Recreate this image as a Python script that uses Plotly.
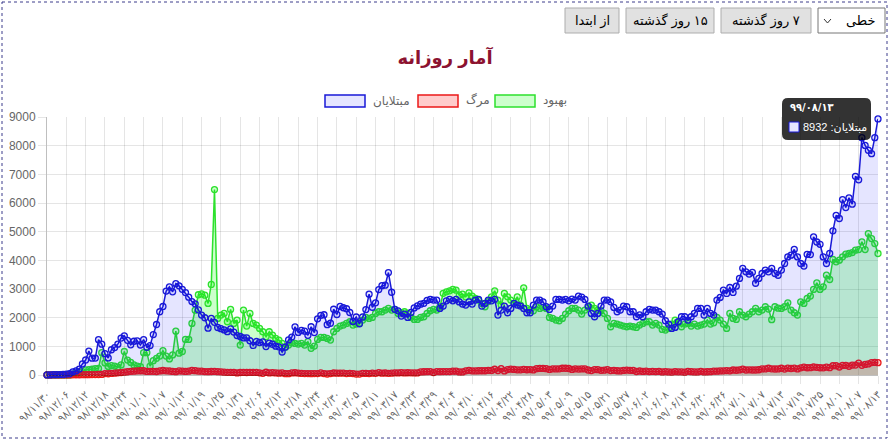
import plotly.graph_objects as go

# -----------------
# Data: daily figures, 98/11/30 .. 99/08/13 (259 days)
# -----------------
FA_DIGITS = str.maketrans("0123456789", "۰۱۲۳۴۵۶۷۸۹")


def persian_days(start, end):
    # month lengths of the Persian years 1398 and 1399
    month_len = {98: [31] * 6 + [30] * 5 + [29], 99: [31] * 6 + [30] * 5 + [30]}
    y, m, d = start
    out = []
    while True:
        out.append(f"{y:02d}/{m:02d}/{d:02d}".translate(FA_DIGITS))
        if (y, m, d) == end:
            break
        d += 1
        if d > month_len[y][m - 1]:
            d, m = 1, m + 1
            if m > 12:
                m, y = 1, y + 1
    return out


days = persian_days((98, 11, 30), (99, 8, 13))

# مبتلایان
cases = [
    2, 3, 13, 10, 15, 18, 34, 44, 106, 143,
    205, 385, 523, 835, 586, 591, 1234, 1076, 743, 595,
    881, 958, 1075, 1289, 1365, 1209, 1053, 1178, 1192, 1046,
    1237, 966, 1028, 1411, 1762, 2206, 2389, 2926, 3076, 2901,
    3186, 3110, 2987, 2875, 2715, 2560, 2483, 2274, 2089, 1997,
    1634, 1972, 1837, 1657, 1617, 1574, 1512, 1606, 1499, 1374,
    1343, 1294, 1297, 1194, 1030, 1168, 1134, 1153, 991, 1112,
    1073, 1006, 983, 802, 976, 1223, 1323, 1680, 1485, 1556,
    1529, 1383, 1683, 1481, 1958, 2080, 2102, 1757, 1806, 2294,
    2111, 2392, 2346, 2311, 2180, 1869, 2023, 1787, 2023, 2282,
    2819, 2364, 2516, 2979, 3117, 3134, 3574, 2886, 2290, 2240,
    2055, 2125, 2008, 2180, 2340, 2410, 2470, 2500, 2600, 2635,
    2612, 2612, 2322, 2403, 2589, 2635, 2589, 2635, 2550, 2473,
    2438, 2554, 2473, 2612, 2635, 2403, 2496, 2612, 2589, 2640,
    2090, 2264, 2403, 2171, 2322, 2496, 2438, 2403, 2322, 2171,
    2171, 2438, 2612, 2612, 2554, 2380, 2287, 2403, 2635, 2635,
    2612, 2635, 2589, 2650, 2612, 2752, 2720, 2635, 2403, 2148,
    2032, 2148, 2403, 2612, 2612, 2554, 2357, 2206, 2264, 2403,
    2380, 2206, 2206, 2032, 2100, 2032, 2206, 2287, 2264, 2264,
    2206, 2125, 1892, 1776, 1625, 1660, 1858, 2032, 2032, 1916,
    2032, 2148, 2322, 2322, 2090, 2322, 2148, 2090, 2612, 2705,
    2960, 2844, 3053, 2879, 3100, 3370, 3720, 3600, 3520, 3580,
    3200, 3370, 3540, 3660, 3600, 3720, 3540, 3480, 3660, 3890,
    4120, 4180, 4380, 4120, 3890, 3800, 4210, 4200, 4820, 4640,
    4560, 4120, 3890, 4240, 5030, 5570, 5460, 6120, 5840, 6180,
    5960, 6930, 6810, 8280, 8010, 7840, 7720, 8280, 8932,
]

# مرگ
deaths = [
    2, 0, 2, 1, 3, 4, 4, 3, 7, 8,
    9, 11, 12, 11, 15, 15, 17, 21, 49, 43,
    54, 63, 75, 85, 97, 113, 129, 135, 147, 149,
    149, 123, 129, 127, 122, 143, 157, 144, 139, 123,
    117, 141, 138, 124, 134, 158, 151, 136, 133, 121,
    117, 122, 125, 117, 111, 98, 94, 94, 89, 73,
    87, 91, 88, 94, 90, 93, 76, 60, 96, 71,
    80, 71, 63, 74, 47, 47, 74, 78, 68, 55,
    48, 51, 45, 48, 50, 71, 48, 35, 51, 69,
    62, 65, 66, 51, 58, 50, 34, 34, 57, 56,
    50, 63, 57, 81, 64, 70, 59, 63, 75, 72,
    81, 71, 78, 75, 72, 71, 107, 113, 115, 120,
    87, 120, 116, 119, 121, 119, 133, 134, 107, 109,
    144, 162, 147, 141, 148, 148, 148, 163, 160, 200,
    153, 221, 142, 188, 203, 194, 179, 179, 195, 183,
    188, 178, 221, 229, 229, 221, 195, 216, 212, 216,
    235, 235, 226, 196, 216, 208, 212, 215, 174, 156,
    189, 185, 163, 168, 189, 156, 163, 149, 143, 158,
    173, 162, 159, 122, 140, 126, 135, 118, 125, 119,
    123, 106, 115, 108, 102, 115, 110, 112, 100, 123,
    117, 107, 108, 126, 109, 113, 116, 134, 135, 142,
    145, 155, 144, 175, 166, 178, 207, 175, 180, 175,
    175, 184, 212, 211, 235, 215, 210, 211, 235, 206,
    239, 227, 239, 211, 251, 272, 253, 254, 279, 269,
    253, 251, 272, 254, 322, 322, 279, 335, 337, 305,
    346, 346, 415, 337, 369, 386, 434, 440, 431,
]

# بهبود
recovered = [
    0, 0, 0, 0, 0, 0, 0, 0, 30, 60,
    100, 120, 180, 190, 200, 220, 230, 780, 420, 300,
    330, 310, 270, 350, 820, 520, 440, 350, 310, 290,
    780, 780, 310, 500, 580, 660, 850, 660, 560, 700,
    1530, 760, 820, 1240, 1240, 1800, 2260, 2800, 2830, 2786,
    2496, 3158, 6467, 1974, 2090, 2148, 1858, 2287, 1800, 1916,
    1045, 2264, 1707, 2148, 1800, 1742, 1625, 1509, 1335, 1509,
    1393, 1277, 1219, 1103, 964, 1045, 1126, 1103, 1080, 1103,
    1045, 1161, 929, 1010, 1242, 1312, 1312, 1277, 1219, 1509,
    1625, 1707, 1742, 1800, 1858, 1742, 1776, 1800, 1916, 2008,
    1974, 2008, 2148, 2206, 2206, 2264, 2322, 2264, 2287, 2148,
    2171, 2206, 2148, 2008, 1939, 1939, 2008, 2032, 2148, 2241,
    2287, 2264, 2380, 2850, 2900, 2937, 2984, 2960, 2786, 2820,
    2728, 2868, 2752, 2670, 2612, 2496, 2380, 2560, 2728, 2937,
    2612, 2438, 2844, 2728, 2612, 2496, 2728, 2438, 3042, 2322,
    2264, 2241, 2380, 2322, 2357, 2322, 2008, 1974, 1916, 1892,
    1974, 2125, 2241, 2322, 2322, 2264, 2125, 2264, 2357, 2438,
    2322, 2264, 2241, 2148, 1974, 1683, 1800, 1776, 1742, 1707,
    1683, 1707, 1683, 1660, 1742, 1800, 1858, 1858, 1742, 1800,
    1742, 1590, 1567, 1625, 1776, 1916, 1823, 1683, 1776, 1800,
    1707, 1776, 1707, 1742, 1776, 1916, 1776, 1823, 2008, 1916,
    1776, 1625, 2148, 1974, 1939, 2206, 2090, 2032, 2125, 2206,
    2322, 2206, 2264, 2380, 2300, 1930, 2380, 2330, 2322, 2380,
    2519, 2264, 2171, 2090, 2554, 2496, 2670, 2752, 2984, 3216,
    2984, 3077, 3483, 3332, 4029, 3947, 4005, 4122, 4214, 4238,
    4272, 4354, 4377, 4644, 4377, 4934, 4760, 4586, 4238,
]

assert len(cases) == len(deaths) == len(recovered) == len(days)

y_ticks = list(range(0, 9001, 1000))
x_ticks = days[::6]

# -----------------
# Figure geometry (pixels) and helpers for paper coordinates
# -----------------
W, H = 890, 442
ML, MR, MT, MB = 47, 12, 117, 67


def px(x):
    return (x - ML) / (W - ML - MR)


def py(y):
    return (H - MB - y) / (H - MT - MB)


def rounded_rect(x0, y0, x1, y1, r):
    pts = [
        ("M", [(x0 + r, y0)]), ("L", [(x1 - r, y0)]), ("Q", [(x1, y0), (x1, y0 + r)]),
        ("L", [(x1, y1 - r)]), ("Q", [(x1, y1), (x1 - r, y1)]),
        ("L", [(x0 + r, y1)]), ("Q", [(x0, y1), (x0, y1 - r)]),
        ("L", [(x0, y0 + r)]), ("Q", [(x0, y0), (x0 + r, y0)]),
    ]
    return " ".join(cmd + " " + " ".join(f"{px(a):.5f},{py(b):.5f}" for a, b in p) for cmd, p in pts) + " Z"


def rtl(s):
    # render a Persian phrase right-to-left inside the LTR svg text
    return "\u202b" + s + "\u202c"


FONT = "Liberation Sans, Arial, DejaVu Sans, sans-serif"
TICK_FONT = "DejaVu Sans Condensed, DejaVu Sans, sans-serif"
GRID = "rgba(0,0,0,0.1)"

series = [
    # drawn first -> bottom (same order as the original chart)
    ("بهبود", recovered, "rgb(45,225,45)", "rgba(0,255,0,0.2)"),
    ("مرگ", deaths, "rgb(235,25,25)", "rgba(255,0,0,0.2)"),
    ("مبتلایان", cases, "rgb(25,25,215)", "rgba(0,0,255,0.1)"),
]

fig = go.Figure()
for name, vals, line_c, fill_c in series:
    fig.add_trace(go.Scatter(
        x=days, y=vals, name=name, mode="lines+markers",
        fill="tozeroy", fillcolor=fill_c,
        line=dict(color=line_c, width=1.5),
        marker=dict(size=6, color=fill_c, line=dict(color=line_c, width=1.3)),
        cliponaxis=False, showlegend=False,
        hovertemplate="%{x}<br>" + name + ": %{y}<extra></extra>",
    ))

shapes = []
annotations = []

# dotted page border
shapes.append(dict(type="rect", xref="paper", yref="paper",
                   x0=px(2), x1=px(887), y0=py(2), y1=py(438),
                   line=dict(color="#3c3c8c", width=1, dash="dot"), layer="below"))

# range buttons and chart-type select (top right)
buttons = [("از ابتدا", 565, 619), ("۱۵ روز گذشته", 626, 714), ("۷ روز گذشته", 721, 811)]
for label, bx0, bx1 in buttons:
    shapes.append(dict(type="rect", xref="paper", yref="paper",
                       x0=px(bx0), x1=px(bx1), y0=py(8), y1=py(33),
                       fillcolor="#e1e1e1", line=dict(color="#adadad", width=1)))
    annotations.append(dict(text=rtl(label), xref="paper", yref="paper",
                            x=px((bx0 + bx1) / 2), y=py(20.5), showarrow=False,
                            xanchor="center", yanchor="middle",
                            font=dict(size=13, color="#000", family=FONT)))
shapes.append(dict(type="rect", xref="paper", yref="paper",
                   x0=px(818), x1=px(885), y0=py(8), y1=py(33),
                   fillcolor="#fff", line=dict(color="#767676", width=1)))
shapes.append(dict(type="path", xref="paper", yref="paper",
                   path=f"M {px(824):.5f},{py(19):.5f} L {px(827.5):.5f},{py(23):.5f} L {px(831):.5f},{py(19):.5f}",
                   line=dict(color="#333", width=1)))
annotations.append(dict(text="خطی", xref="paper", yref="paper", x=px(878), y=py(20.5),
                        showarrow=False, xanchor="right", yanchor="middle",
                        font=dict(size=13, color="#000", family=FONT)))

# legend (boxes + labels), order: مبتلایان, مرگ, بهبود
legend_items = [(series[2], 325), (series[1], 418), (series[0], 495)]
for (name, _, line_c, fill_c), lx in legend_items:
    shapes.append(dict(type="rect", xref="paper", yref="paper",
                       x0=px(lx), x1=px(lx + 40), y0=py(95), y1=py(107),
                       fillcolor=fill_c, line=dict(color=line_c, width=1.5)))
    annotations.append(dict(text=name, xref="paper", yref="paper", x=px(lx + 46), y=py(101),
                            showarrow=False, xanchor="left", yanchor="middle",
                            font=dict(size=12, color="#666", family=FONT)))

# hover tooltip over the last day
shapes.append(dict(type="path", xref="paper", yref="paper",
                   path=rounded_rect(782, 98, 871, 140, 6),
                   fillcolor="rgba(0,0,0,0.8)", line=dict(width=0)))
shapes.append(dict(type="rect", xref="paper", yref="paper",
                   x0=px(789), x1=px(799), y0=py(122), y1=py(132),
                   fillcolor="rgb(230,230,255)", line=dict(color=series[2][2], width=1)))
annotations.append(dict(text=f"<b>{days[-1]}</b>", xref="paper", yref="paper",
                        x=px(788), y=py(108), showarrow=False, xanchor="left", yanchor="middle",
                        font=dict(size=11, color="#fff", family=TICK_FONT)))
annotations.append(dict(text=rtl(f"{series[2][0]}: {cases[-1]}"), xref="paper", yref="paper",
                        x=px(801), y=py(127), showarrow=False, xanchor="left", yanchor="middle",
                        font=dict(size=11, color="#fff", family=FONT)))

fig.update_layout(
    width=W, height=H,
    margin=dict(l=ML, r=MR, t=MT, b=MB, autoexpand=False),
    paper_bgcolor="white", plot_bgcolor="white",
    font=dict(family=FONT, size=12, color="#666"),
    title=dict(text="<b>آمار روزانه</b>", x=0.5, xref="container", xanchor="center",
               y=1 - 58 / H, yref="container", yanchor="middle",
               font=dict(size=18, color="#8c1230", family=FONT)),
    xaxis=dict(
        type="category", range=[0, len(days) - 1], autorange=False,
        tickmode="array", tickvals=x_ticks, ticktext=x_ticks, tickangle=-45,
        showgrid=True, gridcolor=GRID, gridwidth=1,
        ticks="outside", ticklen=8, tickcolor=GRID,
        showline=True, linecolor="rgba(0,0,0,0.25)", linewidth=1,
        tickfont=dict(size=11, color="#666", family=TICK_FONT),
    ),
    yaxis=dict(
        range=[0, 9000], autorange=False, tickmode="array", tickvals=y_ticks,
        showgrid=True, gridcolor=GRID, gridwidth=1, zeroline=False,
        ticks="outside", ticklen=8, tickcolor=GRID,
        showline=True, linecolor="rgba(0,0,0,0.25)", linewidth=1,
        tickfont=dict(size=12, color="#666"),
    ),
    hoverlabel=dict(bgcolor="rgba(0,0,0,0.8)", font=dict(color="#fff", family=FONT)),
    shapes=shapes, annotations=annotations,
)

fig.write_html("out.html", config={"displayModeBar": False},
               post_script="document.body.style.margin='0';document.body.style.overflow='hidden';")
